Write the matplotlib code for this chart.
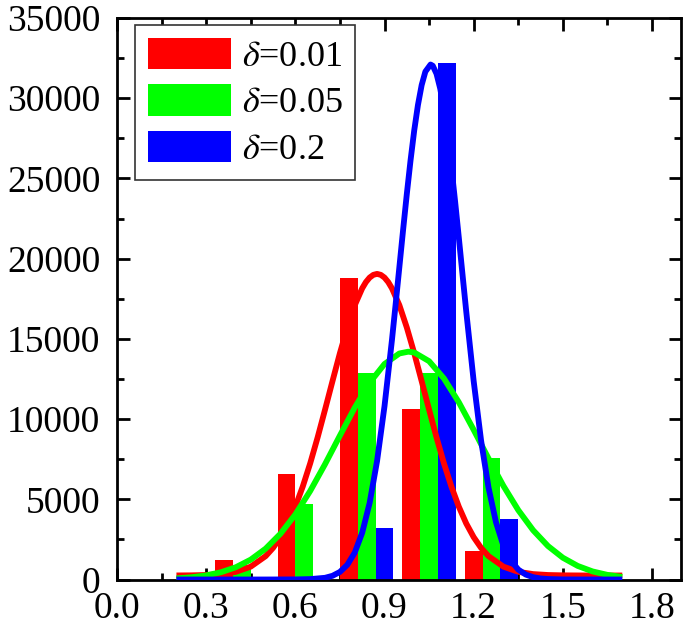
import matplotlib
matplotlib.use('Agg')
import matplotlib.pyplot as plt
import numpy as np

plt.rcParams['font.family'] = ['Liberation Serif', 'DejaVu Serif']
plt.rcParams['mathtext.fontset'] = 'stix'

# 直方图数据 (组中心, 三个 delta 的计数)
bin_centers = [0.42, 0.63, 0.84, 1.05, 1.26]
counts_001 = [1200, 6600, 18800, 10600, 1800]
counts_005 = [900, 4700, 12900, 12900, 7600]
counts_02 = [120, 0, 3200, 32200, 3750]
labels = [r'$\delta$=0.01', r'$\delta$=0.05', r'$\delta$=0.2']

# 拟合曲线
fit_x_001 = [0.2, 0.25, 0.3, 0.35, 0.4, 0.45, 0.5, 0.525, 0.55, 0.575, 0.6, 0.625, 0.65,
             0.675, 0.7, 0.725, 0.75, 0.775, 0.8, 0.825, 0.8375, 0.85, 0.8625, 0.875, 0.8875,
             0.9, 0.9125, 0.925, 0.95,
             0.975, 1.0, 1.025, 1.05, 1.075, 1.1, 1.125, 1.15, 1.175, 1.2, 1.225, 1.25,
             1.3, 1.35, 1.4, 1.45, 1.5, 1.55, 1.6, 1.65, 1.7]
fit_y_001 = [253, 259, 280, 337, 479, 802, 1455, 1968, 2640, 3491, 4540, 5796, 7240,
             8857, 10590, 12365, 14110, 15710, 17100, 18150, 18540, 18820, 18990, 19050, 18990,
             18820, 18540, 18150, 17100,
             15710, 14110, 12365, 10590, 8857, 7240, 5796, 4540, 3491, 2640, 1968, 1455,
             802, 479, 337, 280, 259, 253, 250, 250, 250]

fit_x_005 = [0.2, 0.25, 0.3, 0.35, 0.4, 0.45, 0.5, 0.55, 0.6, 0.65, 0.7, 0.75, 0.8, 0.85,
             0.9, 0.95, 0.98, 1.0, 1.05, 1.1, 1.15, 1.2, 1.25, 1.3, 1.35, 1.4, 1.45, 1.5,
             1.55, 1.6, 1.65, 1.7]
fit_y_005 = [72, 139, 256, 453, 766, 1240, 1922, 2853, 4054, 5518, 7190, 8972, 10718, 12263,
             13432, 14089, 14200, 14151, 13609, 12531, 11049, 9329, 7542, 5838, 4327, 3072, 2087, 1358,
             847, 504, 288, 158]

fit_x_02 = [0.2, 0.3, 0.4, 0.5, 0.6, 0.65, 0.7, 0.725, 0.75, 0.775, 0.8, 0.825, 0.85, 0.875,
            0.9, 0.925, 0.9375, 0.95, 0.9625, 0.975, 0.9875, 1.0, 1.0125, 1.025, 1.0375,
            1.055, 1.0625, 1.075, 1.0875, 1.1, 1.1125, 1.125, 1.1375, 1.15, 1.1625, 1.175, 1.2,
            1.225, 1.25, 1.275, 1.3, 1.325, 1.35, 1.375, 1.4, 1.425, 1.45, 1.5, 1.6, 1.7]
fit_y_02 = [0, 0, 0, 0, 5, 25, 106, 230, 472, 917, 1681, 2915, 4772, 7387,
            10800, 14917, 17164, 19470, 21777, 24014, 26107, 27990, 29574, 30817, 31657,
            32100, 32020, 31523, 30598, 29285, 27628, 25703, 23574, 21318, 19006, 16708, 12371,
            8654, 5724, 3576, 2109, 1178, 620, 309, 145, 65, 30, 5, 0, 0]

colors = ['#ff0000', '#00ff00', '#0000ff']
bar_w = 0.06

fig = plt.figure(figsize=(6.85, 6.31), dpi=100)
ax = fig.add_axes([117 / 685, 1 - 579.5 / 631, 564 / 685, 561.5 / 631])

centers = np.array(bin_centers)
handles = []
for i, (cnt, c, lab) in enumerate(zip([counts_001, counts_005, counts_02], colors, labels)):
    b = ax.bar(centers + (i - 1) * bar_w, cnt, width=bar_w, color=c, label=lab, zorder=2)
    handles.append(b)

for fx, fy, c in zip([fit_x_001, fit_x_005, fit_x_02], [fit_y_001, fit_y_005, fit_y_02], colors):
    ax.plot(fx, fy, color=c, lw=4.2, solid_capstyle='butt', solid_joinstyle='round', zorder=3)

ax.set_xlim(0, 1.8 * 564 / 535)
ax.set_ylim(0, 35000)
ax.set_xticks(np.arange(0, 1.81, 0.3))
ax.set_xticks(np.arange(0.15, 1.9, 0.3), minor=True)
ax.set_yticks(np.arange(0, 35001, 5000))
ax.set_yticks(np.arange(2500, 35000, 5000), minor=True)
ax.xaxis.set_major_formatter(plt.FuncFormatter(lambda v, p: '%.1f' % v))

for s in ax.spines.values():
    s.set_linewidth(2)
ax.tick_params(which='both', direction='in', top=True, right=True, width=2, labelsize=27)
ax.tick_params(which='major', length=9)
ax.tick_params(which='minor', length=5)
ax.tick_params(axis='y', pad=12)
ax.tick_params(axis='x', pad=9)

leg = ax.legend(handles=handles, loc='upper left', bbox_to_anchor=(0.032, 0.9875),
                borderaxespad=0, fontsize=26, handlelength=2.3, handleheight=0.95,
                handletextpad=0.3, borderpad=0.35, labelspacing=0.3, fancybox=False,
                framealpha=1, edgecolor='#333333')
leg.get_frame().set_linewidth(1.2)

fig.savefig('out.png', dpi=100)
